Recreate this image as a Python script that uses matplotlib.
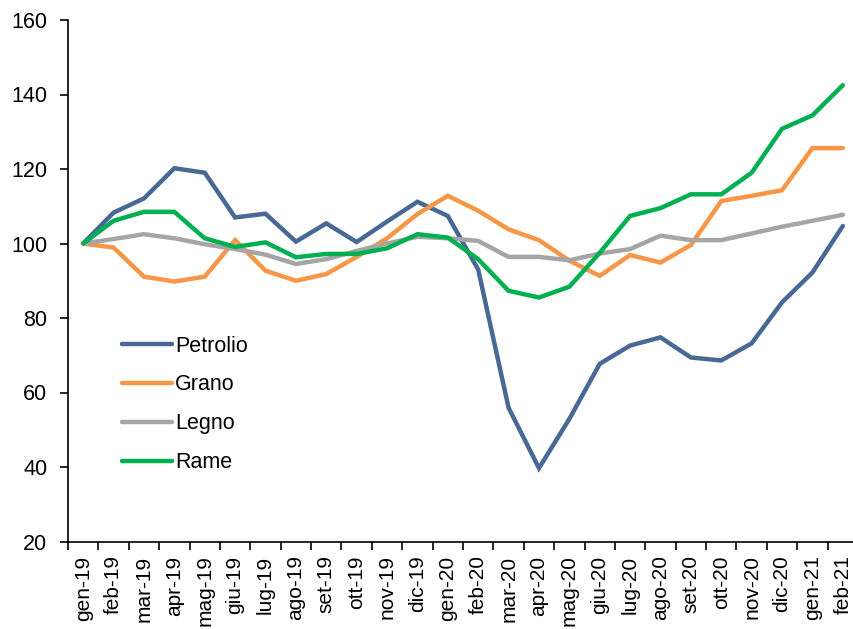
import matplotlib
matplotlib.use("Agg")
import matplotlib.pyplot as plt
import numpy as np

plt.rcParams['font.family'] = ['Liberation Sans', 'DejaVu Sans']

mesi = ['gen-19', 'feb-19', 'mar-19', 'apr-19', 'mag-19', 'giu-19', 'lug-19',
        'ago-19', 'set-19', 'ott-19', 'nov-19', 'dic-19', 'gen-20', 'feb-20',
        'mar-20', 'apr-20', 'mag-20', 'giu-20', 'lug-20', 'ago-20', 'set-20',
        'ott-20', 'nov-20', 'dic-20', 'gen-21', 'feb-21']

petrolio = [100, 108.3, 112.1, 120.2, 119.0, 107.0, 108.0, 100.5, 105.4, 100.4,
            105.9, 111.2, 107.4, 93.0, 55.9, 39.7, 52.9, 67.7, 72.6, 74.8,
            69.4, 68.6, 73.2, 84.2, 92.2, 104.7]
grano = [100, 98.9, 91.1, 89.8, 91.1, 100.9, 92.7, 90.0, 91.8, 96.4,
         101.4, 107.9, 112.8, 108.8, 103.8, 100.9, 95.4, 91.3, 96.9, 94.9,
         99.6, 111.4, 112.8, 114.3, 125.6, 125.6]
legno = [100, 101.2, 102.5, 101.4, 99.8, 98.5, 97.0, 94.5, 95.8, 98.0,
         100.0, 101.8, 101.4, 100.7, 96.4, 96.4, 95.5, 97.3, 98.5, 102.1,
         100.9, 100.9, 102.7, 104.5, 106.1, 107.7]
rame = [100, 106.1, 108.5, 108.5, 101.4, 99.1, 100.3, 96.3, 97.2, 97.2,
        98.7, 102.5, 101.6, 95.8, 87.3, 85.5, 88.4, 97.5, 107.4, 109.5,
        113.2, 113.2, 119.0, 130.8, 134.4, 142.5]

serie = [('Petrolio', petrolio, '#486895'),
         ('Grano', grano, '#F79646'),
         ('Legno', legno, '#A5A5A5'),
         ('Rame', rame, '#00B050')]

fig = plt.figure(figsize=(8.54, 6.29), dpi=100)
# la parte destra dell'asse esce di poco dal bordo, come nell'originale
ax = fig.add_axes([68 / 854, (629 - 541.5) / 629, 790 / 854, 521.5 / 629])

x = np.arange(len(mesi))
for nome, vals, col in serie:
    ax.plot(x, vals, color=col, lw=3.2, label=nome, solid_capstyle='round',
            solid_joinstyle='miter', clip_on=False)

ax.set_ylim(20, 160)
ax.set_yticks(np.arange(20, 161, 20))
ax.set_xlim(-0.5, len(mesi) - 0.5)
ax.set_xticks(x)
ax.set_xticklabels(mesi, rotation=90)
ax.set_xticks(np.arange(-0.5, len(mesi), 1), minor=True)
ax.tick_params(axis='x', which='major', length=0, pad=10, labelsize=15)
ax.tick_params(axis='x', which='minor', length=5.5, width=1.2, direction='out')
ax.tick_params(axis='y', length=5.8, width=1.2, labelsize=15.5, pad=9)

for s in ['top', 'right']:
    ax.spines[s].set_visible(False)
for s in ['left', 'bottom']:
    ax.spines[s].set_linewidth(1.2)

ax.legend(loc='upper left', bbox_to_anchor=(0.044, 0.432), frameon=False,
          fontsize=15.5, handlelength=2.3, handletextpad=0.15, labelspacing=0.83)

fig.savefig('out.png', dpi=100)
